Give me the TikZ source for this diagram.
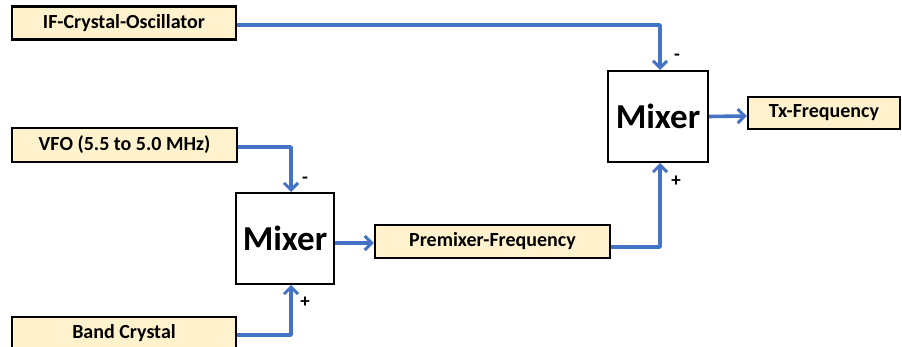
\documentclass[tikz,border=0pt]{standalone}
\usepackage{fontspec}
\setmainfont{Carlito}
\usetikzlibrary{arrows.meta}
\definecolor{boxfill}{HTML}{FFF2CC}
\definecolor{wire}{HTML}{4472C4}
\begin{document}
\begin{tikzpicture}[x=1pt,y=-1pt,
  label box/.style={draw=black,line width=2.4pt,fill=boxfill,rectangle,inner sep=0pt,font=\bfseries\fontsize{20}{22}\selectfont},
  mixer box/.style={draw=black,line width=2pt,fill=white,rectangle,inner sep=0pt,minimum width=98pt,minimum height=91pt,font=\bfseries\fontsize{35}{38}\selectfont},
  wire line/.style={draw=wire,line width=3.6pt,line join=round},
  wire arrow/.style={wire line,-{Straight Barb[length=7pt,width=14pt,line width=3pt]}},
  sign/.style={font=\bfseries\fontsize{19}{20}\selectfont,inner sep=0pt}]
\useasboundingbox (0,0) rectangle (902,347);
\node[label box,minimum width=224pt,minimum height=33pt] (ifosc) at (124,23) {IF-Crystal-Oscillator};
\node[label box,minimum width=225pt,minimum height=34pt] (vfo) at (124.5,145) {VFO (5.5 to 5.0 MHz)};
\node[label box,minimum width=224pt,minimum height=33pt] (band) at (124,333.5) {Band Crystal};
\node[mixer box] (mixa) at (285,238.5) {Mixer};
\node[label box,minimum width=235pt,minimum height=33pt] (pre) at (492.5,241.5) {Premixer-Frequency};
\node[mixer box,minimum width=100pt] (mixb) at (658,116.5) {Mixer};
\node[label box,minimum width=152pt,minimum height=32pt] (tx) at (824,113) {Tx-Frequency};
\coordinate (mbtop) at ([xshift=2pt]mixb.north);
\coordinate (mbbot) at ([xshift=2pt]mixb.south);
\coordinate (matop) at ([xshift=6pt]mixa.north);
\coordinate (mabot) at ([xshift=6pt]mixa.south);
\draw[wire arrow] ([yshift=-2pt]ifosc.east) -| (mbtop);
\draw[wire arrow] ([yshift=-2pt]vfo.east) -| (matop);
\draw[wire arrow] ([yshift=-1.5pt]band.east) -| (mabot);
\draw[wire arrow] ([yshift=-4.5pt]mixa.east) -- ([yshift=-1.5pt]pre.west);
\draw[wire arrow] ([yshift=-5.5pt]pre.east) -| (mbbot);
\draw[wire arrow] (mixb.east) -- ([yshift=-3pt]tx.west);
\node[sign] (s1) at (677,57) {-};
\node[sign] (s2) at (676,181) {+};
\node[sign] (s3) at (305,180) {-};
\node[sign] (s4) at (305,302) {+};
\end{tikzpicture}
\end{document}
